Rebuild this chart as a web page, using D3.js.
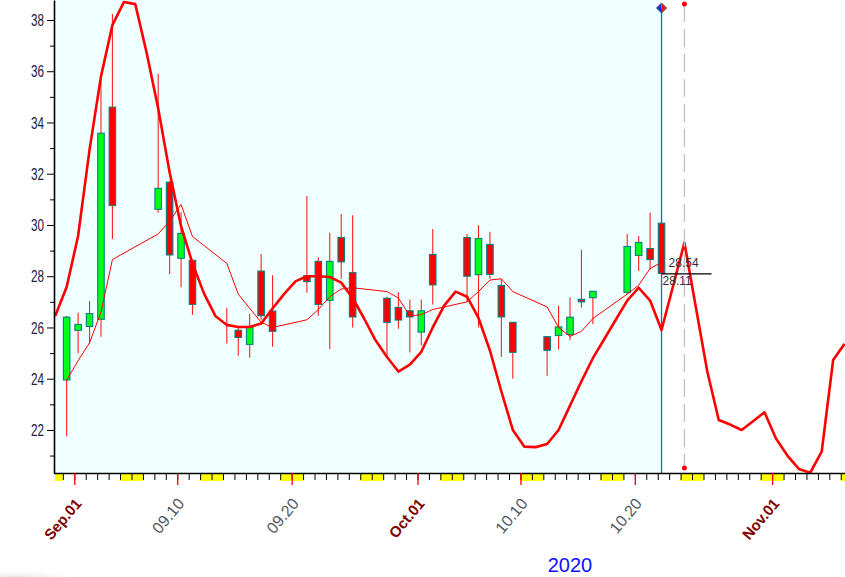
<!DOCTYPE html>
<html><head><meta charset="utf-8">
<script src="https://cdn.jsdelivr.net/npm/d3@7"></script>
<style>body{margin:0;background:#fff}svg{display:block}</style>
</head><body><svg id="c" width="845" height="577"></svg>
<script>
// ---------- data ----------
const candleDates = ["2020-08-31","2020-09-01","2020-09-02","2020-09-03","2020-09-04","2020-09-08","2020-09-09","2020-09-10","2020-09-11","2020-09-14","2020-09-15","2020-09-16","2020-09-17","2020-09-18","2020-09-21","2020-09-22","2020-09-23","2020-09-24","2020-09-25","2020-09-28","2020-09-29","2020-09-30","2020-10-01","2020-10-02","2020-10-05","2020-10-06","2020-10-07","2020-10-08","2020-10-09","2020-10-12","2020-10-13","2020-10-14","2020-10-15","2020-10-16","2020-10-19","2020-10-20","2020-10-21","2020-10-22"];
const opens  = [23.95,25.89,26.04,26.32,34.60,30.61,31.67,28.70,28.62,26.10,25.89,25.34,28.20,26.64,28.02,28.58,27.06,29.51,28.14,27.14,26.78,26.65,25.82,28.85,29.51,28.06,29.24,27.64,26.20,25.64,25.69,25.73,27.10,27.16,27.37,28.81,29.08,30.07];
const highs  = [26.45,26.57,27.03,35.89,38.23,35.90,31.72,30.50,28.65,26.77,26.00,26.54,28.87,28.04,31.13,28.73,29.70,30.43,30.38,27.20,27.37,27.09,27.09,29.84,29.65,29.99,29.74,27.88,26.20,25.64,26.85,27.18,29.03,27.41,29.65,29.57,30.49,30.07];
const lows   = [21.74,24.99,25.37,25.64,29.45,30.48,28.09,27.57,26.49,25.37,24.90,24.82,26.30,25.25,27.35,26.46,25.16,27.90,26.00,24.86,25.95,25.02,25.30,26.90,27.00,26.00,27.90,24.86,24.00,24.12,25.14,25.50,26.77,26.13,27.30,28.20,28.25,27.60];
const closes = [26.40,26.12,26.54,33.58,30.76,31.43,28.83,29.67,26.90,26.10,25.61,26.04,26.46,25.85,27.79,26.90,28.58,28.56,26.41,26.20,26.29,26.41,26.65,27.66,28.00,29.47,28.07,26.41,25.03,25.11,26.02,26.40,27.00,27.41,29.16,29.32,28.65,28.11];
const maValues = [23.95,24.70,25.40,26.60,28.65,29.65,30.15,30.80,29.55,28.50,27.30,26.75,26.20,26.00,26.30,26.70,27.20,27.50,27.55,27.40,27.15,26.45,26.50,26.70,27.00,27.40,27.85,27.90,27.40,26.80,26.00,25.65,25.85,26.35,27.30,27.65,28.30,28.54];
// daily forecast curve, one value per calendar day starting at trendStart
const trendStart = "2020-08-30";
const trendValues = [26.45,27.58,29.57,32.93,35.80,37.80,38.70,38.62,36.70,34.55,32.06,29.95,28.50,27.33,26.45,26.10,26.02,26.02,26.15,26.74,27.30,27.80,28.00,28.00,27.97,27.75,27.15,26.35,25.50,24.85,24.28,24.55,25.05,26.00,26.85,27.40,27.20,26.37,25.10,23.50,22.00,21.35,21.33,21.45,22.00,22.95,23.90,24.80,25.55,26.30,27.05,27.55,27.05,25.90,27.60,29.31,26.79,24.28,22.39,22.21,22.00,22.34,22.69,21.67,21.00,20.48,20.33,21.15,24.73,25.36];
const cursorDate = "2020-10-24";
const yMajorTicks = [22,24,26,28,30,32,34,36,38];
const yMinorTicks = [21,23,25,27,29,31,33,35,37];
const xMajorTicks = ["2020-09-01","2020-09-10","2020-09-20","2020-10-01","2020-10-10","2020-10-20","2020-11-01"];
const xMajorLabels = ["Sep.01","09.10","09.20","Oct.01","10.10","10.20","Nov.01"];
const yearLabel = "2020";

// ---------- layout ----------
const P = {left:54, right:845, top:0, bottom:473};
const parse = d3.utcParse("%Y-%m-%d");
const svg = d3.select("#c");
const x = d3.scaleUtc().domain([parse("2020-08-30"), parse("2020-11-08")]).range([51.4, 852.2]);
const y = d3.scaleLinear().domain([20.32, 38.78]).range([P.bottom, P.top]);
const cx = d => x(d3.utcHour.offset(d, 8));

const dates = candleDates.map(parse);
const lastDate = dates[dates.length-1];
const candles = dates.map((d,i)=>({d, o:opens[i], h:highs[i], l:lows[i], c:closes[i]}));
const t0 = parse(trendStart);
const trend = trendValues.map((v,i)=>({d:d3.utcDay.offset(t0,i), v}));

const defs = svg.append("defs");
defs.append("clipPath").attr("id","clip")
  .append("rect").attr("x",P.left).attr("y",P.top).attr("width",P.right-P.left).attr("height",P.bottom-P.top);
const rg = defs.append("radialGradient").attr("id","shade");
rg.append("stop").attr("offset","0%").attr("stop-color","#d8d8d8");
rg.append("stop").attr("offset","100%").attr("stop-color","#ffffff").attr("stop-opacity",0);
svg.append("ellipse").attr("cx",15).attr("cy",580).attr("rx",70).attr("ry",12).attr("fill","url(#shade)");

// background
svg.append("rect").attr("x",P.left).attr("y",P.top)
  .attr("width",cx(lastDate)-P.left).attr("height",P.bottom-P.top).attr("fill","#f0ffff");

const g = svg.append("g").attr("clip-path","url(#clip)");

// cursor line (last candle)
g.append("line").attr("x1",cx(lastDate)).attr("x2",cx(lastDate)).attr("y1",8).attr("y2",P.bottom)
  .attr("stroke","#008080").attr("stroke-width",1.3);

// dashed forecast marker
const cd = parse(cursorDate);
svg.append("line").attr("x1",cx(cd)).attr("x2",cx(cd)).attr("y1",4).attr("y2",468)
  .attr("stroke","#c0c0c0").attr("stroke-width",1.3).attr("stroke-dasharray","18,7");
svg.selectAll("circle.mk").data([4,468]).join("circle").attr("class","mk")
  .attr("cx",cx(cd)).attr("cy",d=>d).attr("r",2.5).attr("fill","#ff0000");

// annotation
const lastC = closes[closes.length-1], lastMA = maValues[maValues.length-1];
svg.append("line").attr("x1",cx(lastDate)).attr("x2",cx(lastDate)+50)
  .attr("y1",y(lastC)+0.5).attr("y2",y(lastC)+0.5).attr("stroke","#000").attr("stroke-width",1.2);
svg.append("text").attr("x",cx(lastDate)+7).attr("y",y(lastC)-6.5).text(lastMA.toFixed(2))
  .attr("font-family","Arial, Liberation Sans").attr("font-size",12).attr("fill","#303040");
svg.append("text").attr("x",cx(lastDate)+1).attr("y",y(lastC)+11.5).text(lastC.toFixed(2))
  .attr("font-family","Arial, Liberation Sans").attr("font-size",12).attr("fill","#303040");

// candles
const cw = 6.5;
const cg = g.append("g");
cg.selectAll("line.wick").data(candles).join("line").attr("class","wick")
  .attr("x1",d=>cx(d.d)).attr("x2",d=>cx(d.d)).attr("y1",d=>y(d.h)).attr("y2",d=>y(d.l))
  .attr("stroke","#ff2020").attr("stroke-width",1.1);
cg.selectAll("rect.body").data(candles.filter(d=>d.o!==d.c)).join("rect").attr("class","body")
  .attr("x",d=>cx(d.d)-cw/2).attr("width",cw)
  .attr("y",d=>y(Math.max(d.o,d.c))).attr("height",d=>Math.abs(y(d.o)-y(d.c)))
  .attr("fill",d=>d.c>d.o?"#00ff1a":"#ff0000").attr("stroke","#008080").attr("stroke-width",1.1);

// lines
g.append("path").datum(candles.map((c,i)=>({d:c.d, v:maValues[i]})))
  .attr("d",d3.line().x(d=>cx(d.d)).y(d=>y(d.v)))
  .attr("fill","none").attr("stroke","#ff0000").attr("stroke-width",1);
g.append("path").datum(trend)
  .attr("d",d3.line().x(d=>cx(d.d)).y(d=>y(d.v)))
  .attr("fill","none").attr("stroke","#ff0000").attr("stroke-width",2.6).attr("stroke-linejoin","round");

// diamond marker
const dx0 = cx(lastDate), dy0 = 8;
svg.append("path").attr("d",`M${dx0},${dy0-5}L${dx0-5},${dy0}L${dx0},${dy0+5}Z`).attr("fill","#1030ff");
svg.append("path").attr("d",`M${dx0},${dy0-5}L${dx0+5},${dy0}L${dx0},${dy0+5}Z`).attr("fill","#ff1010");
svg.append("path").attr("d",`M${dx0},${dy0-5}L${dx0+5},${dy0}L${dx0},${dy0+5}L${dx0-5},${dy0}Z`)
  .attr("fill","none").attr("stroke","#104060").attr("stroke-width",0.8);

// ---------- y axis ----------
const ya = svg.append("g").attr("transform",`translate(${P.left},0)`)
  .call(d3.axisLeft(y).tickValues(yMajorTicks).tickSize(7).tickSizeOuter(0).tickPadding(3).tickFormat(d3.format("d")));
ya.select(".domain").attr("stroke","#000").attr("stroke-width",1.6);
ya.selectAll(".tick line").attr("stroke","#000").attr("stroke-width",1);
ya.selectAll(".tick text").attr("font-family","Arial, Liberation Sans").attr("font-size",16)
  .attr("fill","#202040").attr("textLength",13).attr("lengthAdjust","spacingAndGlyphs").attr("dy","0.36em");
svg.append("g").attr("transform",`translate(${P.left},0)`)
  .call(d3.axisLeft(y).tickValues(yMinorTicks).tickSize(4).tickFormat(""))
  .call(s=>s.select(".domain").remove())
  .selectAll("line").attr("stroke","#000");

// ---------- x axis ----------
const weekends = d3.utcSaturday.range(parse("2020-08-29"), parse("2020-11-08"));
svg.append("g").selectAll("rect").data(weekends).join("rect")
  .attr("x",d=>Math.max(P.left+1,x(d))).attr("y",P.bottom+1)
  .attr("width",d=>Math.min(P.right,x(d3.utcDay.offset(d,2)))-Math.max(P.left+1,x(d))).attr("height",7)
  .attr("fill","#ffff00");
const days = d3.utcDay.range(parse("2020-08-30"), parse("2020-11-09")).filter(d=>x(d)>P.left+2 && x(d)<=P.right);
const xa = svg.append("g").attr("transform",`translate(0,${P.bottom})`)
  .call(d3.axisBottom(x).tickValues(days).tickSize(7).tickSizeOuter(0).tickFormat(""));
xa.select(".domain").attr("d",`M${P.left},0.5H${P.right}`).attr("stroke","#000").attr("stroke-width",1.6);
xa.selectAll(".tick line").attr("stroke","#000");
const majors = xMajorTicks.map(parse);
const xm = svg.append("g").attr("transform",`translate(0,${P.bottom})`)
  .call(d3.axisBottom(x).tickValues(majors).tickSize(12).tickFormat(""));
xm.select(".domain").remove();
xm.selectAll(".tick line").attr("stroke","#ff0000").attr("stroke-width",1.3);
svg.append("g").selectAll("text").data(majors).join("text")
  .attr("transform",d=>`translate(${x(d)+8},${P.bottom+31}) rotate(-50)`)
  .attr("text-anchor","end")
  .text((d,i)=>xMajorLabels[i])
  .attr("font-family","Arial, Liberation Sans")
  .attr("font-size",(d,i)=>d.getUTCDate()===1?15:16)
  .attr("font-weight",(d,i)=>d.getUTCDate()===1?"bold":"normal")
  .attr("fill",(d,i)=>d.getUTCDate()===1?"#800000":"#505860");
svg.append("text").attr("x",570).attr("y",572).attr("text-anchor","middle")
  .attr("font-family","Arial, Liberation Sans").attr("font-size",20).attr("fill","#1010ff").text(yearLabel);
</script></body></html>
